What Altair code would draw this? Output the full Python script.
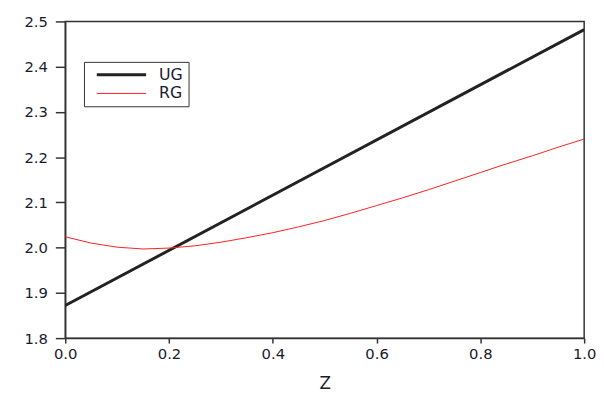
import altair as alt
import pandas as pd

# UG: straight line
z_ug = [0.0, 1.0]
ug = [1.872, 2.482]

# RG: curve
z_rg = [0.0, 0.05, 0.1, 0.15, 0.2, 0.25, 0.3, 0.35, 0.4, 0.45, 0.5,
        0.55, 0.6, 0.65, 0.7, 0.75, 0.8, 0.85, 0.9, 0.95, 1.0]
rg = [2.024, 2.010, 2.001, 1.997, 1.999, 2.004, 2.012, 2.022, 2.033, 2.046, 2.060,
      2.076, 2.093, 2.110, 2.128, 2.147, 2.166, 2.185, 2.203, 2.222, 2.240]

series_names = ["UG", "RG"]
x_ticks = [0.0, 0.2, 0.4, 0.6, 0.8, 1.0]
y_ticks = [1.8, 1.9, 2.0, 2.1, 2.2, 2.3, 2.4, 2.5]

df = pd.concat([
    pd.DataFrame({"z": z_ug, "v": ug, "series": "UG"}),
    pd.DataFrame({"z": z_rg, "v": rg, "series": "RG"}),
])

spacer = "\u2003" * 1
leg = alt.Legend(title=spacer, titleOrient="right", titlePadding=0, titleFontSize=18,
                 orient="none", legendX=19, legendY=41,
                 symbolType="M-5,0H5", symbolSize=100, symbolOffset=25,
                 strokeColor="#333", fillColor="white", padding=5,
                 labelOffset=30, rowPadding=3,
                 labelFontSize=16, labelFont="DejaVu Sans", labelColor="#1a1a2e")

chart = alt.Chart(df).mark_line(clip=True).encode(
    x=alt.X("z:Q", scale=alt.Scale(domain=[0, 1], nice=False),
            axis=alt.Axis(title="Z", values=x_ticks, format=".1f", tickSize=5,
                          labelPadding=4, grid=False, titleY=51, labelFlush=False,
                          titleBaseline="alphabetic", titleFontSize=17,
                          titleFontWeight="normal")),
    y=alt.Y("v:Q", scale=alt.Scale(domain=[1.8, 2.5], nice=False, zero=False),
            axis=alt.Axis(title=None, values=y_ticks, format=".1f", tickSize=10,
                          labelPadding=8, grid=False, labelFlush=False)),
    color=alt.Color("series:N", scale=alt.Scale(domain=series_names, range=["#222222", "#ff2020"]),
                    legend=leg),
    strokeWidth=alt.StrokeWidth("series:N", scale=alt.Scale(domain=series_names, range=[3, 1]),
                                legend=leg),
).properties(
    width=526, height=321,
    autosize=alt.AutoSizeParams(type="none"),
    padding={"left": 58, "top": 11, "right": 12, "bottom": 52},
).configure_view(
    stroke="#333", strokeWidth=1.5
).configure_axis(
    labelFont="DejaVu Sans", labelFontSize=15, labelColor="#1a1a2e",
    titleFont="DejaVu Sans", titleColor="#1a1a2e",
    domainColor="#333", domainWidth=1.5, tickColor="#333", tickWidth=1.5,
)

chart.save("out.html", embed_options={"renderer": "svg", "actions": False})
